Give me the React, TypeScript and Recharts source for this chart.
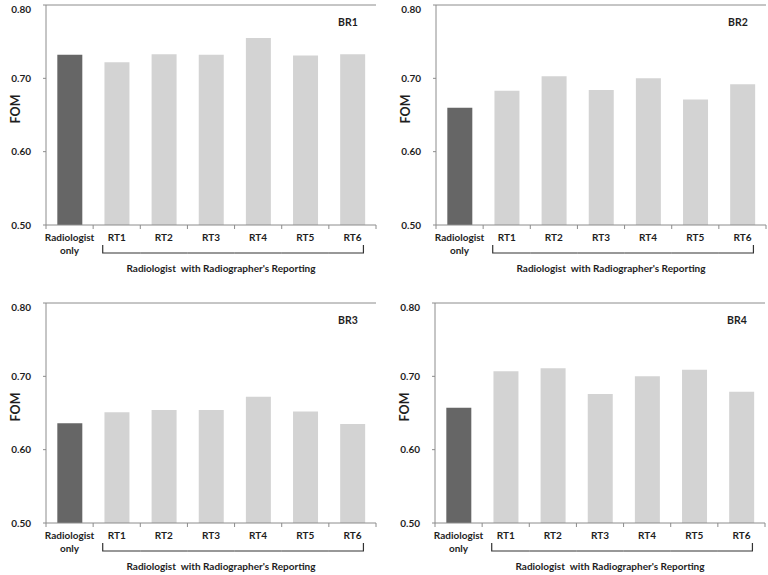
import React from 'react';
import { BarChart, Bar, XAxis, YAxis, Cell, ReferenceLine } from 'recharts';

const CATEGORIES = ['Radiologist only', 'RT1', 'RT2', 'RT3', 'RT4', 'RT5', 'RT6'];
const BR1_VALUES = [0.732, 0.722, 0.733, 0.732, 0.755, 0.731, 0.733];
const BR2_VALUES = [0.660, 0.683, 0.703, 0.684, 0.700, 0.671, 0.692];
const BR3_VALUES = [0.636, 0.651, 0.654, 0.654, 0.672, 0.652, 0.635];
const BR4_VALUES = [0.657, 0.707, 0.711, 0.676, 0.700, 0.709, 0.679];
const PANEL_TITLES = ['BR1', 'BR2', 'BR3', 'BR4'];
const Y_TICKS = [0.5, 0.6, 0.7, 0.8];
const Y_LABEL = 'FOM';
const GROUP_LABEL = "Radiologist  with Radiographer's Reporting";

const FONT = 'Lato, "Open Sans", sans-serif';
const TEXT_COLOR = '#1e1e1e';
const AXIS_COLOR = '#8c8c8c';
const DARK = '#666666';
const LIGHT = '#d3d3d3';

const CH_W = 384;
const CH_H = 290;
const Y_AXIS_W = 46;
const MARGIN = { top: 5, right: 8, left: 0, bottom: 0 };
const X_AXIS_H = 65;
const PLOT_W = CH_W - Y_AXIS_W - MARGIN.right - MARGIN.left;
const BAND = PLOT_W / CATEGORIES.length;
const TICK_FS = 10;

const XTick = (props: any) => {
  const { x, y, payload, index } = props;
  const half = BAND / 2;
  const last = CATEGORIES.length - 1;
  const label: string = String(payload.value);
  const lines = label === 'Radiologist only' ? ['Radiologist', 'only'] : [label];
  return (
    <g>
      <line x1={x - half} y1={y} x2={x - half} y2={y + 4} stroke={AXIS_COLOR} strokeWidth={1} />
      {index === last && (
        <line x1={x + half} y1={y} x2={x + half} y2={y + 4} stroke={AXIS_COLOR} strokeWidth={1} />
      )}
      {lines.map((l, i) => (
        <text
          key={i}
          x={x}
          y={y + 16 + i * 13}
          textAnchor="middle"
          fontFamily={FONT}
          fontSize={TICK_FS}
          fontWeight={700}
          fill={TEXT_COLOR}
        >
          {l}
        </text>
      ))}
      {index >= 1 && (
        <path
          d={
            index === 1
              ? `M${x - 14},${y + 20} L${x - 14},${y + 28} L${x + half},${y + 28}`
              : index === last
              ? `M${x - half},${y + 28} L${x + 11},${y + 28} L${x + 11},${y + 20}`
              : `M${x - half},${y + 28} L${x + half},${y + 28}`
          }
          fill="none"
          stroke="#333"
          strokeWidth={1.2}
        />
      )}
    </g>
  );
};

const YTick = (props: any) => {
  const { x, y, payload } = props;
  return (
    <text
      x={x}
      y={y}
      dy={3.5}
      textAnchor="end"
      fontFamily={FONT}
      fontSize={TICK_FS}
      fontWeight={700}
      fill={TEXT_COLOR}
    >
      {Number(payload.value).toFixed(2)}
    </text>
  );
};

const GroupLabel = (props: any) => {
  const vb = props.viewBox || {};
  const cx = vb.x + vb.width / 2 + 10;
  return (
    <text
      x={cx}
      y={vb.y + 47}
      textAnchor="middle"
      fontFamily={FONT}
      fontSize={TICK_FS}
      fontWeight={700}
      fill={TEXT_COLOR}
      style={{ whiteSpace: 'pre' }}
    >
      {GROUP_LABEL}
    </text>
  );
};

const FomLabel = (props: any) => {
  const vb = props.viewBox || {};
  const cx = 15;
  const cy = vb.y + vb.height / 2 - 6;
  return (
    <text
      x={cx}
      y={cy}
      transform={`rotate(-90, ${cx}, ${cy})`}
      textAnchor="middle"
      dominantBaseline="central"
      fontFamily={FONT}
      fontSize={12.5}
      fontWeight={700}
      fill={TEXT_COLOR}
    >
      {Y_LABEL}
    </text>
  );
};

const makeTitleLabel = (title: string) => (props: any) => {
  const vb = props.viewBox || {};
  return (
    <text
      x={vb.x + vb.width - 28}
      y={vb.y + 21}
      textAnchor="middle"
      fontFamily={FONT}
      fontSize={10.5}
      fontWeight={700}
      fill={TEXT_COLOR}
    >
      {title}
    </text>
  );
};

const Panel = ({ values, title, left, top }: { values: number[]; title: string; left: number; top: number }) => {
  const data = CATEGORIES.map((c, i) => ({ category: c, value: values[i] }));
  return (
    <div style={{ position: 'absolute', left, top, width: CH_W, height: CH_H }}>
      <BarChart width={CH_W} height={CH_H} data={data} margin={MARGIN} barCategoryGap="24%">
        <XAxis
          dataKey="category"
          height={X_AXIS_H}
          axisLine={{ stroke: AXIS_COLOR }}
          tickLine={false}
          tickSize={0}
          tickMargin={0}
          interval={0}
          tick={(p: any) => <XTick {...p} />}
          label={(p: any) => <GroupLabel {...p} />}
        />
        <YAxis
          width={Y_AXIS_W}
          domain={[0.5, 0.8]}
          ticks={Y_TICKS}
          type="number"
          axisLine={{ stroke: AXIS_COLOR }}
          tickLine={{ stroke: AXIS_COLOR }}
          tickSize={3}
          tickMargin={12}
          tick={(p: any) => <YTick {...p} />}
          label={(p: any) => <FomLabel {...p} />}
        />
        <Bar dataKey="value" isAnimationActive={false}>
          {data.map((d, i) => (
            <Cell key={d.category} fill={i === 0 ? DARK : LIGHT} />
          ))}
        </Bar>
        <ReferenceLine y={0.8} stroke={AXIS_COLOR} strokeWidth={1} label={makeTitleLabel(title)} />
        <ReferenceLine x={CATEGORIES[CATEGORIES.length - 1]} position="end" stroke={AXIS_COLOR} strokeWidth={1} />
      </BarChart>
    </div>
  );
};

export default function App() {
  return (
    <div style={{ position: 'absolute', left: 0, top: 0, width: 768, height: 575, background: '#fff', overflow: 'hidden' }}>
      <Panel values={BR1_VALUES} title={PANEL_TITLES[0]} left={0} top={0} />
      <Panel values={BR2_VALUES} title={PANEL_TITLES[1]} left={390} top={0} />
      <Panel values={BR3_VALUES} title={PANEL_TITLES[2]} left={0} top={298} />
      <Panel values={BR4_VALUES} title={PANEL_TITLES[3]} left={389} top={298} />
    </div>
  );
}
